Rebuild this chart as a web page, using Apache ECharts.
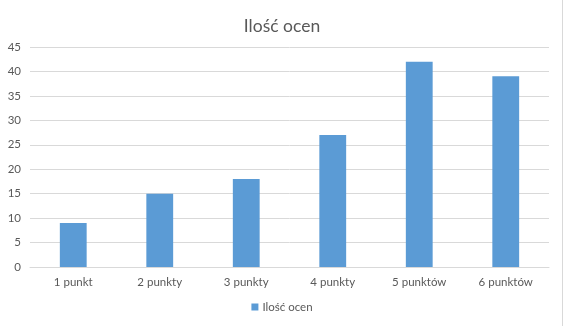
<!DOCTYPE html>
<html><head><meta charset="utf-8">
<script src="https://cdn.jsdelivr.net/npm/echarts@6/dist/echarts.min.js"></script>
<style>html,body{margin:0;padding:0;background:#fff}#c{width:564px;height:326px}</style>
</head><body><div id="c"></div>
<script>
const categories = ['1 punkt','2 punkty','3 punkty','4 punkty','5 punktów','6 punktów'];
const values = [9, 15, 18, 27, 42, 39];
const seriesName = 'Ilość ocen';
const titleText = 'Ilość ocen';
const chart = echarts.init(document.getElementById('c'));
const font = 'Lato, "Open Sans", sans-serif';
chart.setOption({
  animation: false,
  backgroundColor: '#fff',
  title: { text: titleText, left: 'center', top: 12, textStyle: { fontFamily: font, fontSize: 17.5, fontWeight: 'normal', color: '#595959' } },
  legend: { bottom: 8, left: 'center', itemWidth: 7, itemHeight: 7, itemGap: 3, icon: 'rect',
    textStyle: { fontFamily: font, fontSize: 11.5, color: '#595959', padding: [0,0,0,-1] }, data: [seriesName] },
  grid: { left: 30, right: 15, top: 47, bottom: 59, containLabel: false },
  xAxis: { type: 'category', data: categories,
    axisLine: { lineStyle: { color: '#d9d9d9' } }, axisTick: { show: false },
    axisLabel: { fontFamily: font, fontSize: 11.5, color: '#595959', margin: 9 } },
  yAxis: { type: 'value', min: 0, max: 45, interval: 5,
    axisLine: { show: false }, axisTick: { show: false },
    splitLine: { lineStyle: { color: '#d9d9d9' } },
    axisLabel: { fontFamily: font, fontSize: 11.5, color: '#595959', margin: 9 } },
  series: [{ name: seriesName, type: 'bar', data: values, barWidth: '31%', itemStyle: { color: '#5b9bd5' } }],
  graphic: [{ type: 'line', shape: { x1: 562.5, y1: 0, x2: 562.5, y2: 326 }, style: { stroke: '#d9d9d9', lineWidth: 1 } }]
});
</script></body></html>
